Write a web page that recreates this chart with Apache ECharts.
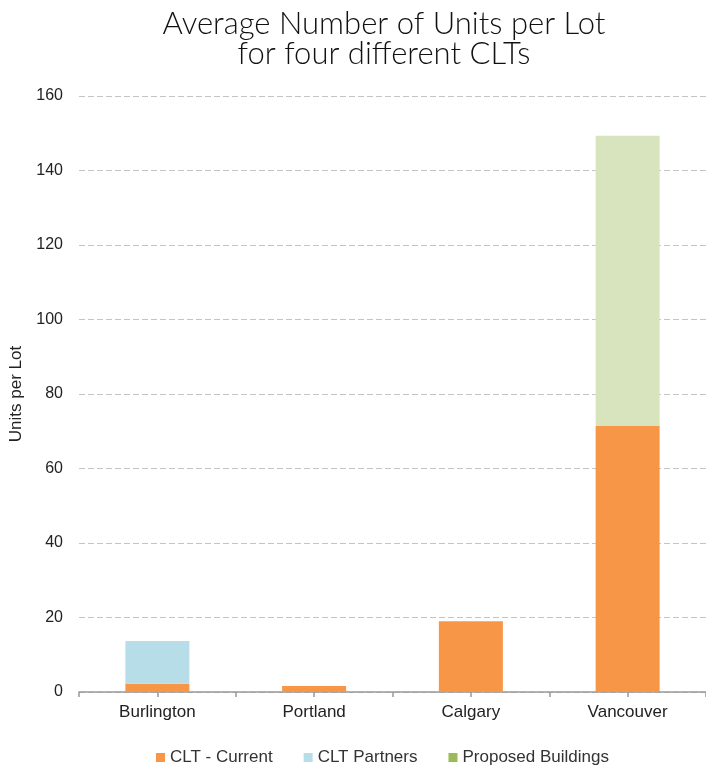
<!DOCTYPE html>
<html>
<head>
<meta charset="utf-8">
<script src="https://cdn.jsdelivr.net/npm/echarts@6/dist/echarts.min.js"></script>
<style>
  html, body { margin: 0; padding: 0; background: #fff; }
  #chart { width: 706px; height: 765px; }
</style>
</head>
<body>
<div id="chart"></div>
<script>
// Average units per lot for four community land trusts
const categories = ['Burlington', 'Portland', 'Calgary', 'Vancouver'];
const cltCurrent = [2.2, 1.6, 19.0, 71.4];
const cltPartners = [11.5, 0, 0, 0];
const proposedBuildings = [0, 0, 0, 77.9];
const yTicks = { min: 0, max: 160, interval: 20 };

const FONT = '"Liberation Sans", Arial, sans-serif';

const chart = echarts.init(document.getElementById('chart'));
chart.setOption({
  backgroundColor: '#ffffff',
  animation: false,
  title: {
    text: 'Average Number of Units per Lot\nfor four different CLTs',
    left: 379,
    textAlign: 'center',
    top: 4,
    textStyle: {
      fontFamily: 'Lato, ' + FONT,
      fontWeight: 300,
      fontSize: 31,
      lineHeight: 30,
      color: '#111'
    }
  },
  legend: {
    left: 151,
    top: 744,
    itemWidth: 9,
    itemHeight: 9,
    itemGap: 31,
    icon: 'rect',
    textStyle: { fontFamily: FONT, fontSize: 17, color: '#333' },
    data: [
      { name: 'CLT - Current', itemStyle: { color: '#F79646' } },
      { name: 'CLT Partners', itemStyle: { color: '#B7DEE8' } },
      { name: 'Proposed Buildings', itemStyle: { color: '#9BBB59' } }
    ]
  },
  grid: { left: 78, right: 0, top: 96, bottom: 73, containLabel: false },
  xAxis: [
    {
      type: 'category',
      data: categories,
      axisLine: { lineStyle: { color: '#999', width: 1.5 } },
      axisTick: { show: false },
      axisLabel: { fontFamily: FONT, fontSize: 17, color: '#222', margin: 12 }
    },
    {
      // half-category tick marks along the baseline
      type: 'value',
      min: 0,
      max: 8,
      interval: 1,
      position: 'bottom',
      axisLine: { show: false },
      axisTick: { show: true, length: 5, lineStyle: { color: '#999', width: 1.5 } },
      axisLabel: { show: false },
      splitLine: { show: false }
    }
  ],
  yAxis: {
    type: 'value',
    min: yTicks.min,
    max: yTicks.max,
    interval: yTicks.interval,
    name: 'Units per Lot',
    nameLocation: 'middle',
    nameRotate: 90,
    nameGap: 54,
    nameTextStyle: { fontFamily: FONT, fontSize: 17, color: '#222' },
    axisLine: { show: false },
    axisTick: { show: false },
    axisLabel: { fontFamily: FONT, fontSize: 16, color: '#222', margin: 16 },
    splitLine: { lineStyle: { color: '#c4c4c4', type: [6, 3], width: 1 } }
  },
  series: [
    {
      name: 'CLT - Current',
      type: 'bar',
      stack: 'units',
      barWidth: 64,
      data: cltCurrent,
      itemStyle: { color: '#F79646' }
    },
    {
      name: 'CLT Partners',
      type: 'bar',
      stack: 'units',
      barWidth: 64,
      data: cltPartners,
      itemStyle: { color: '#B7DEE8' }
    },
    {
      name: 'Proposed Buildings',
      type: 'bar',
      stack: 'units',
      barWidth: 64,
      data: proposedBuildings,
      itemStyle: { color: '#D7E4BD' }
    }
  ]
});
</script>
</body>
</html>
